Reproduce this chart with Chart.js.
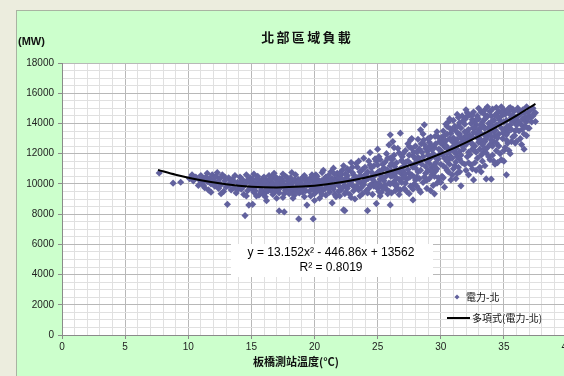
<!DOCTYPE html>
<html>
<head>
<meta charset="UTF-8">
<title>北部區域負載</title>
<script src="https://cdn.jsdelivr.net/npm/chart.js"></script>
<style>
  html, body { margin: 0; padding: 0; overflow: hidden; background: #ecedde; width: 564px; height: 376px; }
  .frame { position: absolute; left: 16px; top: 10px; width: 620px; height: 420px;
           background: #ccffcc; border: 1px solid #a9b3a2; }
  #wrap { position: absolute; left: 0; top: 0; width: 600px; height: 376px; }
</style>
</head>
<body>
<div class="frame"></div>
<div id="wrap"><canvas id="loadChart" width="600" height="376"></canvas></div>
<script>
// temperature (°C) vs northern load (MW)
const ptsCool = [
  [7.7,10720],[8.8,10050],[9.4,10110],[10.1,10350],[10.3,10600],[10.4,10200],[10.6,10450],[10.8,9900],[10.9,10250],
  [11.0,10550],[11.1,10080],[11.2,10300],[11.3,9750],[11.4,10450],[11.5,10150],[11.6,9600],[11.7,10350],[11.8,10000],
  [11.9,10600],[11.2,9900],[11.5,10700],[11.8,9450],[12.0,10250],
  [12.1,9850],[12.2,10500],[12.3,10100],[12.4,9700],[12.5,10350],[12.6,9950],[12.7,10600],[12.8,9500],[12.9,10200],
  [13.0,9800],[13.1,8650],[13.2,10400],[13.3,10050],[13.4,9600],[12.3,10750],[12.6,9350],[12.9,10450],[13.2,9900],
  [13.4,10250],[12.5,10000],
  [13.5,10300],[13.6,9750],[13.7,10550],[13.8,9400],[13.9,10100],[14.0,9900],[14.1,10450],[14.2,9650],[14.3,10250],
  [14.4,9300],[14.5,7900],[14.5,10000],[14.6,10600],[14.7,9550],[14.8,8600],[14.8,10150],[14.9,9800],[13.6,10150],
  [13.9,9600],[14.2,10350],[14.6,9200],[14.9,10400],[14.1,10050],[14.4,9850],[14.7,10250]
];
const ptsMild = [
  [15.0,9700],[15.1,8650],[15.1,10300],[15.2,9450],[15.3,10050],[15.4,9850],[15.5,10500],[15.6,9250],[15.7,10150],
  [15.8,9600],[15.9,10350],[16.0,9950],[16.1,9400],[16.2,8890],[16.2,10250],[16.3,9750],[16.4,10550],[15.2,10650],
  [15.5,9950],[15.8,10150],[16.1,9150],[16.4,9950],[15.3,9550],[15.6,10250],[15.9,9350],[16.3,10100],[15.0,10100],
  [15.4,9200],[15.7,9800],[16.0,10450],
  [16.5,9600],[16.6,10150],[16.7,9300],[16.8,10700],[16.9,9900],[17.0,10400],[17.1,9550],[17.2,8210],[17.2,10050],
  [17.3,9750],[17.4,10300],[17.5,9100],[17.6,8146],[17.6,9950],[17.7,10500],[17.8,9650],[17.9,10200],[16.6,9800],
  [16.9,10350],[17.2,9400],[17.5,10150],[17.8,9900],[16.7,10550],[17.0,9700],[17.3,10100],[17.6,9350],[17.9,9800],
  [16.8,9450],[17.1,10250],[17.4,9850],[17.7,9550],[16.5,10300],[17.0,9050],[17.5,10650],
  [18.0,9950],[18.1,10400],[18.2,9500],[18.3,10100],[18.4,9250],[18.5,10600],[18.6,9800],[18.7,10300],[18.75,7680],
  [18.8,9400],[18.9,10050],[19.0,9700],[19.1,10450],[19.2,9150],[19.3,10200],[19.4,8600],[19.4,9900],[18.2,10750],
  [18.5,9600],[18.8,10150],[19.1,9850],[18.1,9650],[18.4,10250],[18.7,9450],[19.0,10350],[19.3,9550],[18.3,9050],
  [18.6,10050],[18.9,9750],[19.2,10550],[19.4,10300],[18.0,9350],
  [19.5,10050],[19.6,9500],[19.7,10400],[19.8,9800],[19.9,7680],[19.9,10150],[20.0,9350],[20.1,10600],[20.2,9700],
  [20.3,10250],[20.4,9050],[20.5,10000],[20.6,10750],[20.7,9600],[20.8,10350],[20.9,9250],[21.0,9900],[19.6,10250],
  [19.9,9650],[20.2,10500],[20.5,9450],[20.8,10050],[19.7,9200],[20.0,10350],[20.3,9850],[20.6,9300],[20.9,10450],
  [19.8,10600],[20.1,9950],[20.4,10150],[20.7,10900],[21.0,10250],[20.0,8900],[20.5,9750],
  [15.15,9900],[15.45,10350],[15.75,9450],[16.05,10150],[16.35,9550],[16.65,10000],[16.95,9600],[17.25,10350],
  [17.55,9800],[17.85,10400],[18.15,9850],[18.45,9700],[18.75,10150],[19.05,9450],[19.35,10050],[19.65,9850],
  [19.95,10350],[20.25,9550],[20.55,10200],[20.85,9700],[16.2,9650],[17.0,10050],[18.0,10200],[19.0,9950],[20.2,9950]
];
const ptsWarm = [
  [21.1,10550],[21.2,9450],[21.3,10150],[21.4,8740],[21.4,9800],[21.5,11040],[21.6,10300],[21.7,9150],[21.8,10700],
  [21.9,9900],[22.0,10400],[22.1,9600],[22.2,10900],[22.3,8280],[22.3,10100],[22.4,8230],[22.4,9350],[21.2,10000],
  [21.5,9650],[21.8,10250],[22.1,10600],[22.4,9850],[21.3,10800],[21.6,9300],[21.9,10450],[22.2,9750],[21.1,9700],
  [21.4,10350],[21.7,10000],[22.0,9200],[22.3,11200],[21.6,10650],[22.2,10200],[21.9,9500],
  [22.5,10350],[22.6,9700],[22.7,10900],[22.8,9300],[22.9,11410],[22.9,10150],[23.0,9900],[23.1,10600],[23.2,9000],
  [23.3,10300],[23.4,11100],[23.5,9600],[23.6,10800],[23.7,10050],[23.8,9350],[23.9,11700],[23.9,10500],[22.6,10550],
  [22.8,10100],[23.0,10750],[23.2,9800],[23.4,10400],[23.6,9200],[23.8,10950],[22.5,9450],[22.7,10250],[23.1,9550],
  [23.3,11350],[23.5,10150],[23.7,9750],[22.9,9100],[23.5,11500],[23.9,9950],[22.6,11000],[23.2,10450],
  [24.0,10200],[24.1,9550],[24.2,8230],[24.2,10800],[24.3,11500],[24.4,12073],[24.4,9900],[24.5,10450],[24.6,9300],
  [24.7,11200],[24.8,10100],[24.9,8700],[24.9,10650],[25.0,9700],[25.1,11800],[25.2,10300],[25.3,9450],[25.4,10950],
  [24.1,10650],[24.3,9700],[24.5,11050],[24.7,9850],[24.9,11500],[25.1,10050],[25.3,10500],[24.2,9400],[24.6,10300],
  [24.8,11650],[25.0,10750],[25.2,9200],[25.4,11300],[24.0,11100],[24.5,9950],[25.0,12300],[25.3,9850],[24.7,10500],
  [25.1,9500],
  [25.5,10200],[25.6,11450],[25.7,9650],[25.8,10700],[25.9,12580],[25.9,10050],[26.0,13245],[26.0,8610],[26.0,11200],
  [26.1,9400],[26.2,10550],[26.3,11900],[26.4,9900],[26.5,10900],[26.6,12350],[26.7,10300],[26.8,13357],[26.8,9600],
  [26.9,11550],[25.6,10450],[25.8,9350],[26.0,10000],[26.2,11650],[26.4,10700],[26.6,9700],[26.8,11000],[25.5,11050],
  [25.7,12000],[25.9,9500],[26.1,10850],[26.3,10150],[26.5,11400],[26.7,9300],[26.9,10650],[25.6,9900],[26.2,12800],
  [26.5,10400],[26.7,12050],[26.1,11350],[26.4,9550],[25.8,11700],[26.9,10100],
  [27.0,10850],[27.1,9700],[27.2,12200],[27.3,10300],[27.4,11500],[27.5,9350],[27.6,12900],[27.7,10600],[27.8,8940],
  [27.8,11100],[27.9,10000],[28.0,12500],[28.1,10450],[28.2,11750],[28.3,9600],[28.4,13575],[28.4,10900],[27.0,11450],
  [27.2,10050],[27.4,12650],[27.6,9850],[27.8,11850],[28.0,10250],[28.2,12950],[28.4,9450],[27.1,11200],[27.3,9500],
  [27.5,10700],[27.7,12350],[27.9,11300],[28.1,9850],[28.3,11600],[27.0,12000],[27.5,11900],[28.0,11050],[28.3,12300],
  [27.2,10650],[27.6,11350],[27.9,10450],[28.2,10800],[27.4,10950],[28.1,12100],[27.8,9650],
  [21.25,10250],[21.55,9850],[21.85,10050],[22.15,10350],[22.45,10650],[22.75,9950],[23.05,10300],[23.35,9850],
  [23.65,10550],[23.95,10200],[24.25,10350],[24.55,10750],[24.85,9950],[25.15,10850],[25.45,10400],[25.75,10950],
  [26.05,10500],[26.35,11150],[26.65,10850],[26.95,11800],[27.25,11450],[27.55,10450],[27.85,12100],[28.15,11400],
  [28.45,12650],[22.0,10700],[23.0,11100],[24.0,10550],[25.0,11250],[26.0,11700],[27.0,10400],[28.0,11650],
  [25.5,9700],[26.5,9950],[27.5,12450],[28.3,10350],[24.4,11250],[26.3,12400],[27.7,13000],[25.2,11600]
];
const ptsHot = [
  [28.5,11300],[28.6,10100],[28.7,13907],[28.7,12600],[28.8,10700],[28.9,9700],[29.0,11900],[29.1,10350],[29.2,13100],
  [29.3,11100],[29.4,9900],[29.5,9340],[29.5,12400],[29.6,10850],[29.7,13450],[29.8,11650],[29.9,10150],[28.5,12100],
  [28.7,10450],[28.9,11500],[29.1,12750],[29.3,10600],[29.5,11250],[29.7,10050],[29.9,12800],[28.6,11800],[28.8,12350],
  [29.0,10900],[29.2,9550],[29.4,12000],[29.6,11400],[29.8,10400],[28.6,13300],[29.0,13000],[29.3,12300],[29.6,12650],
  [29.9,11950],[28.8,11150],[29.2,11700],[29.5,10500],[29.8,13100],[29.1,11350],[29.7,11000],[28.9,10250],[29.4,10800],
  [30.0,12200],[30.1,10500],[30.2,13500],[30.3,9780],[30.3,11700],[30.4,12850],[30.5,10900],[30.6,14100],[30.7,11300],
  [30.8,13357],[30.8,10265],[30.9,12400],[31.0,11000],[31.1,13800],[31.2,12000],[31.3,10700],[31.4,14400],[31.4,12600],
  [30.0,11300],[30.2,12600],[30.4,11050],[30.6,12300],[30.8,11800],[31.0,13050],[31.2,11450],[31.4,13300],[30.1,13100],
  [30.3,12450],[30.5,13800],[30.7,12150],[30.9,10600],[31.1,12750],[31.3,11800],[30.0,10100],[30.4,13950],[30.6,11600],
  [30.8,12900],[31.0,12200],[31.2,13500],[30.1,11950],[30.5,12000],[30.9,13600],[31.3,12950],[30.2,11200],[30.7,13000],
  [31.1,11200],[30.3,13200],[30.6,10800],[31.0,14200],[31.4,11100],[30.5,11500],[30.9,11700],[31.2,12350],
  [31.5,12150],[31.6,9870],[31.6,13700],[31.7,11400],[31.8,14200],[31.9,12800],[32.0,10900],[32.1,13450],[32.2,12100],
  [32.3,14550],[32.4,11250],[32.5,13100],[32.6,10265],[32.6,14750],[32.7,12500],[32.8,13900],[32.9,11700],[33.0,14300],
  [31.5,13300],[31.7,12500],[31.9,13950],[32.1,11800],[32.3,13200],[32.5,12300],[32.7,14100],[32.9,13050],[31.6,11900],
  [31.8,12950],[32.0,14400],[32.2,13600],[32.4,12700],[32.6,13400],[32.8,12100],[33.0,12750],[31.5,10800],[31.9,11300],
  [32.2,10600],[32.5,11000],[32.8,10900],[31.7,14500],[32.1,14700],[32.4,14000],[32.7,13700],[33.0,13600],[31.8,12300],
  [32.0,12600],[32.3,11950],[32.6,12250],[32.9,14500],[31.6,12700],[32.2,13000],[32.8,13350],[32.5,14250],[31.9,13450],
  [32.7,11400],
  [33.1,12300],[33.2,14750],[33.3,11500],[33.4,13800],[33.5,12800],[33.6,10330],[33.6,14400],[33.7,13200],[33.8,11800],
  [33.9,14800],[34.0,10310],[34.0,13500],[34.1,12500],[34.2,14200],[34.3,11300],[34.4,13900],[34.5,11410],[34.5,14700],
  [33.1,13400],[33.3,14100],[33.5,13650],[33.7,14500],[33.9,12600],[34.1,14950],[34.3,13150],[33.2,12900],[33.4,12100],
  [33.6,13000],[33.8,14000],[34.0,14500],[34.2,12800],[34.4,12200],[33.1,11100],[33.5,11200],[33.9,11600],[34.3,14550],
  [33.3,12600],[33.7,12400],[34.1,13800],[34.4,15050],[33.2,13700],[33.6,12050],[34.0,12900],[33.4,14650],[33.8,13350],
  [34.2,13450],[33.5,14300],[34.1,11900],[33.9,13750],[33.2,10800],[34.4,12700],
  [34.6,13300],[34.7,12000],[34.8,14500],[34.9,13000],[35.0,12205],[35.0,14900],[35.1,13600],[35.2,10600],[35.2,14200],
  [35.3,12700],[35.4,12205],[35.4,15000],[35.5,13900],[35.6,14400],[35.7,13100],[35.8,14800],[35.9,13500],[34.6,14800],
  [34.8,13700],[35.0,13300],[35.2,12900],[35.4,13700],[35.6,12800],[35.8,14100],[34.7,14200],[34.9,14700],[35.1,14600],
  [35.3,14800],[35.5,14600],[35.7,14950],[35.9,14400],[34.6,12500],[35.0,11500],[35.3,13400],[35.6,13600],[35.9,12700],
  [34.8,11600],[35.1,12400],[35.5,12000],
  [36.0,14200],[36.1,15013],[36.2,13500],[36.3,14600],[36.4,13900],[36.5,14900],[36.6,13300],[36.7,14400],[36.8,15100],
  [36.9,13700],[37.0,13690],[37.0,14500],[37.1,14900],[37.2,14100],[37.4,14680],[37.5,14125],[36.1,14000],[36.3,13000],
  [36.5,14300],[36.7,13800],[36.9,14700],[36.2,14800],[36.6,14700],[36.0,12800],[36.4,12600],[36.8,13200],[37.3,15000],
  [37.5,14700],[36.0,13600],[36.6,12300],
  [28.65,12900],[28.95,12150],[29.25,12550],[29.55,13150],[29.85,12300],[30.15,12850],[30.45,12500],[30.75,13650],
  [31.05,12500],[31.35,13800],[31.65,13050],[31.95,14300],[32.25,12850],[32.55,13700],[32.85,14300],[33.15,13900],
  [33.45,13250],[33.75,13700],[34.05,14150],[34.35,13550],[34.65,14000],[34.95,13400],[35.25,13800],[35.55,14250],
  [35.85,13200],[36.15,14500],[36.45,13600],[36.75,14100],[29.0,12400],[30.0,12700],[31.0,12750],[32.0,13200],
  [33.0,13100],[34.0,13150],[35.0,14100],[36.0,13900],[30.5,13300],[31.5,14050],[32.5,14550],[33.5,14900],
  [34.5,14400],[35.5,15050],[29.5,11800],[30.5,11650],[31.5,11650],[32.5,12650],[33.5,12350],[34.5,13050],
  [29.2,10850],[30.2,10400],[31.2,10350],[32.2,11400],[33.2,11900],[34.2,11500],[35.2,13250],[36.2,14100],
  [37.1,14400],[36.9,14300],[37.3,14500],[30.7,14300],[31.3,14600],[32.0,14900],[33.0,15000],[33.7,15100],
  [34.8,15100],[35.7,14500]
];

// trendline values as printed: y = 13.152x² - 446.86x + 13562
const trendX = [7.6, 9, 11, 13, 15, 17, 19, 21, 23, 25, 27, 29, 31, 33, 35, 36, 37.5];
const trendY = [10926, 10606, 10238, 9976, 9818, 9766, 9820, 9978, 10242, 10611, 11085, 11664, 12348, 13138, 14033, 14520, 15300];

const xTickLabels = [0, 5, 10, 15, 20, 25, 30, 35, 40];
const yTickLabels = [0, 2000, 4000, 6000, 8000, 10000, 12000, 14000, 16000, 18000];

const seriesName = '電力-北';
const trendName = '多項式(電力-北)';
const chartTitle = '北部區域負載';
const xTitle = '板橋測站溫度(°C)';
const yUnit = '(MW)';
const eqLine1 = 'y = 13.152x² - 446.86x + 13562';
const eqLine2 = 'R² = 0.8019';

const pointColor = '#62629e';
const gridMajor = '#b8b8b8';
const gridMinor = '#e0e0e0';
const cjk = '"Noto Sans CJK TC", sans-serif';
const latin = '"Liberation Sans", Arial, sans-serif';

const allPoints = ptsCool.concat(ptsMild, ptsWarm, ptsHot).map(p => ({ x: p[0], y: p[1] }));
const trendPoints = trendX.map((x, i) => ({ x: x, y: trendY[i] }));

const decorations = {
  id: 'decorations',
  beforeDraw(chart) {
    const { ctx, chartArea: a } = chart;
    ctx.save();
    ctx.fillStyle = '#ffffff';
    ctx.fillRect(a.left, a.top, a.right - a.left, a.bottom - a.top);
    ctx.restore();
  },
  afterDraw(chart) {
    const ctx = chart.ctx;
    ctx.save();
    ctx.fillStyle = '#111';
    ctx.textBaseline = 'middle';

    // title, spaced characters
    ctx.font = 'bold 13px ' + cjk;
    ctx.textAlign = 'center';
    const chars = Array.from(chartTitle);
    const step = 15.3;
    const startX = 306 - step * (chars.length - 1) / 2;
    chars.forEach((c, i) => ctx.fillText(c, startX + i * step, 37));

    // y unit
    ctx.textAlign = 'left';
    ctx.font = 'bold 11px ' + latin;
    ctx.fillText(yUnit, 18, 42);

    // x axis title
    ctx.textAlign = 'center';
    ctx.font = 'bold 11px ' + cjk;
    ctx.fillText(xTitle, 296, 362);

    // equation box
    ctx.fillStyle = '#ffffff';
    ctx.fillRect(231, 244, 202, 33);
    ctx.fillStyle = '#000';
    ctx.font = '12px ' + latin;
    ctx.fillText(eqLine1, 331, 253);
    ctx.fillText(eqLine2, 331, 268);

    // legend
    ctx.fillStyle = pointColor;
    ctx.beginPath();
    ctx.moveTo(457, 294.5); ctx.lineTo(459.5, 297); ctx.lineTo(457, 299.5); ctx.lineTo(454.5, 297);
    ctx.closePath(); ctx.fill();
    ctx.strokeStyle = '#000'; ctx.lineWidth = 2;
    ctx.beginPath(); ctx.moveTo(447, 318); ctx.lineTo(470, 318); ctx.stroke();
    ctx.fillStyle = '#111';
    ctx.textAlign = 'left';
    ctx.font = '10px ' + cjk;
    ctx.fillText(seriesName, 466, 297);
    ctx.fillText(trendName, 472, 318);
    ctx.restore();
  }
};

new Chart(document.getElementById('loadChart'), {
  type: 'scatter',
  data: {
    datasets: [
      {
        label: trendName,
        data: trendPoints,
        showLine: true,
        borderColor: '#000',
        borderWidth: 2,
        pointRadius: 0,
        cubicInterpolationMode: 'monotone',
        order: 0
      },
      {
        label: seriesName,
        data: allPoints,
        pointStyle: 'rectRot',
        pointRadius: 3.6,
        backgroundColor: pointColor,
        borderColor: pointColor,
        borderWidth: 0,
        order: 1
      }
    ]
  },
  options: {
    responsive: false,
    animation: false,
    events: [],
    layout: { padding: { left: 0, right: 33, top: 63, bottom: 0 } },
    plugins: { legend: { display: false }, tooltip: { enabled: false }, title: { display: false } },
    scales: {
      x: {
        type: 'linear', min: 0, max: 40,
        afterFit: s => { s.height = 41; },
        border: { color: '#8a8a8a' },
        grid: {
          color: c => (c.tick && c.tick.value % 5 === 0) ? gridMajor : gridMinor,
          tickColor: c => (c.tick && c.tick.value % 5 === 0) ? '#8a8a8a' : 'rgba(0,0,0,0)',
          tickLength: 4
        },
        ticks: {
          stepSize: 1, autoSkip: false, maxRotation: 0, padding: 2,
          color: '#222', font: { family: latin, size: 10 },
          callback: v => xTickLabels.includes(v) ? String(v) : ''
        }
      },
      y: {
        type: 'linear', min: 0, max: 18000,
        afterFit: s => { s.width = 62; },
        border: { color: '#8a8a8a' },
        grid: {
          color: c => (c.tick && c.tick.value % 2000 === 0) ? gridMajor : gridMinor,
          tickColor: c => (c.tick && c.tick.value % 2000 === 0) ? '#8a8a8a' : 'rgba(0,0,0,0)',
          tickLength: 4
        },
        ticks: {
          stepSize: 500, autoSkip: false, padding: 4,
          color: '#222', font: { family: latin, size: 10 },
          callback: v => yTickLabels.includes(v) ? String(v) : ''
        }
      }
    }
  },
  plugins: [decorations]
});
</script>
</body>
</html>
